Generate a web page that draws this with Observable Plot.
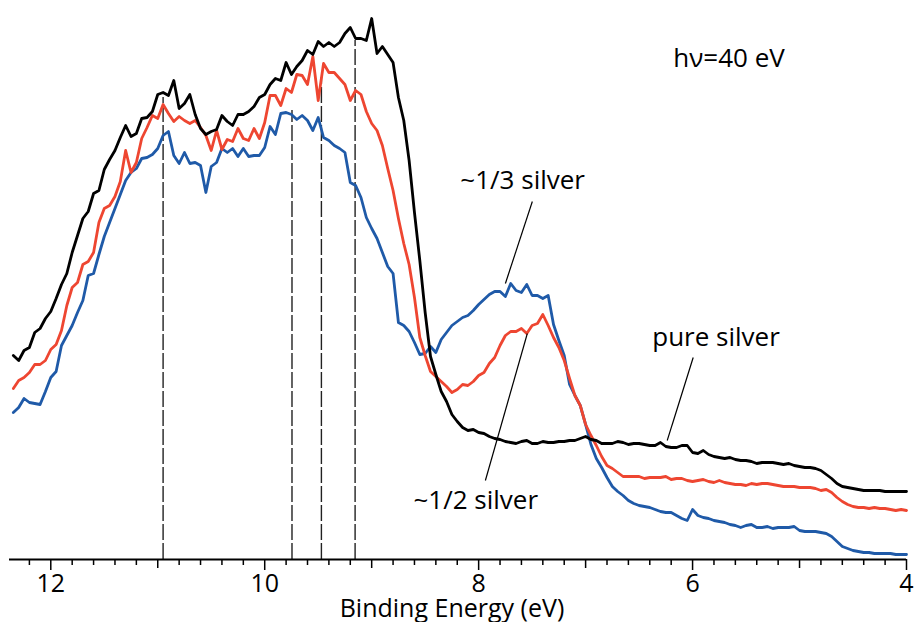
<!DOCTYPE html>
<html><head><meta charset="utf-8">
<script src="https://cdn.jsdelivr.net/npm/d3@7"></script>
<script src="https://cdn.jsdelivr.net/npm/@observablehq/plot@0.6"></script>
<style>html,body{margin:0;padding:0;background:#fff;} #chart{width:917px;height:622px;}</style>
</head><body><div id="chart"></div>
<script>
const energy = [12.35,12.30,12.25,12.20,12.15,12.10,12.05,12.00,11.95,11.90,11.85,11.80,11.75,11.70,11.65,11.60,11.55,11.50,11.45,11.40,11.35,11.30,11.25,11.20,11.15,11.10,11.05,11.00,10.95,10.90,10.85,10.80,10.75,10.70,10.65,10.60,10.55,10.50,10.45,10.40,10.35,10.30,10.25,10.20,10.15,10.10,10.05,10.00,9.95,9.90,9.85,9.80,9.75,9.70,9.65,9.60,9.55,9.50,9.45,9.40,9.35,9.30,9.25,9.20,9.15,9.10,9.05,9.00,8.95,8.90,8.85,8.80,8.75,8.70,8.65,8.60,8.55,8.50,8.45,8.40,8.35,8.30,8.25,8.20,8.15,8.10,8.05,8.00,7.95,7.90,7.85,7.80,7.75,7.70,7.65,7.60,7.55,7.50,7.45,7.40,7.35,7.30,7.25,7.20,7.15,7.10,7.05,7.00,6.95,6.90,6.85,6.80,6.75,6.70,6.65,6.60,6.55,6.50,6.45,6.40,6.35,6.30,6.25,6.20,6.15,6.10,6.05,6.00,5.95,5.90,5.85,5.80,5.75,5.70,5.65,5.60,5.55,5.50,5.45,5.40,5.35,5.30,5.25,5.20,5.15,5.10,5.05,5.00,4.95,4.90,4.85,4.80,4.75,4.70,4.65,4.60,4.55,4.50,4.45,4.40,4.35,4.30,4.25,4.20,4.15,4.10,4.05,4.00];

// intensities (arb. units)
const pureSilver = [204,199,209,212,227,231,241,248,261,275,
286,307,324,341,348,366,369,390,400,409,
422,434,423,426,441,442,448,465,467,464,
479,451,456,465,445,431,425,428,430,444,
438,434,445,445,448,453,462,465,475,481,
479,497,485,493,499,509,505,518,513,517,
513,517,526,532,521,521,519,541,506,513,
505,497,462,439,399,347,299,247,203,185,
168,158,145,138,132,129,130,127,126,123,
121,120,118,117,116,118,119,116,116,118,
117,117,118,118,119,119,121,123,120,119,
116,116,116,118,117,115,116,116,115,114,
114,117,113,112,112,114,114,107,106,109,
105,103,102,101,102,100,99,99,98,96,
97,97,97,96,95,96,94,93,92,92,
91,89,85,81,76,73,72,71,70,69,
69,69,69,68,68,68,68,68];

const halfSilver = [171,179,182,187,195,195,199,210,215,229,
254,272,277,295,298,307,337,351,354,363,
378,409,387,397,421,432,444,441,455,446,
438,443,439,436,439,432,424,409,429,410,
420,418,431,421,419,431,421,437,464,464,
454,471,467,485,484,475,503,459,496,487,
487,481,475,459,469,465,448,436,429,414,
391,369,341,316,295,262,222,204,188,183,
178,173,167,170,175,174,178,184,187,196,
202,214,224,228,228,231,226,234,236,245,
234,222,212,199,181,164,154,135,124,114,
103,94,91,87,83,83,83,83,81,82,
82,82,83,80,81,81,79,78,79,80,
78,77,79,77,76,75,75,74,76,75,
76,76,75,74,73,73,73,72,72,72,
71,69,70,67,62,58,55,53,52,52,
51,52,51,51,50,49,50,49];

const thirdSilver = [147,152,161,157,156,155,168,182,188,214,
224,234,247,259,284,286,305,323,337,351,
365,379,387,391,401,402,405,411,424,428,
404,396,407,396,397,394,367,393,397,411,
407,411,403,411,403,404,404,412,433,425,
446,447,445,440,444,439,429,442,422,419,
414,411,407,377,374,362,342,331,321,307,
293,286,237,234,228,217,205,206,213,207,
220,227,234,238,242,244,249,255,260,265,
268,268,263,276,269,267,275,264,264,261,
264,235,219,204,175,164,154,135,115,101,
92,82,73,68,64,59,56,54,53,52,
50,48,47,47,44,41,39,50,44,42,
41,39,38,37,35,34,32,34,35,32,
32,33,31,32,32,32,33,29,28,28,
28,27,26,23,18,13,11,9,8,7,
7,6,6,6,6,5,5,5];

const seriesNames = ["~1/3 silver", "~1/2 silver", "pure silver"];
const seriesColors = ["#1f5aa8", "#ee4631", "#000000"];

const majorTicks = [12, 10, 8, 6, 4];
const oddTicks = [11, 9, 7, 5];
const minorTicks = [12.2,11.8,11.6,11.4,11.2,10.8,10.6,10.4,10.2,9.8,9.6,9.4,9.2,8.8,8.6,8.4,8.2,7.8,7.6,7.4,7.2,6.8,6.6,6.4,6.2,5.8,5.6,5.4,5.2,4.8,4.6,4.4,4.2];

const peakEnergies = [10.95, 9.745, 9.47, 9.155];
const peakTops = [462, 449, 482, 519];

const labelTexts = ["hν=40 eV", "~1/3 silver", "~1/2 silver", "pure silver"];
const labelE = [6.18, 8.171, 8.61, 6.377];
const labelI = [493, 371, 51, 214];

const leaderE1 = [7.498, 7.937, 5.994];
const leaderI1 = [358, 79, 202];
const leaderE2 = [7.75, 7.545, 6.237];
const leaderI2 = [276, 226, 119];

const xTitle = "Binding Energy (eV)";

// build tables
const allSeries = [thirdSilver, halfSilver, pureSilver];
const rows = [];
allSeries.forEach((vals, s) => vals.forEach((v, i) => rows.push({E: energy[i], I: v, s: seriesNames[s]})));
const labelsTbl = labelTexts.map((t, i) => ({t, E: labelE[i], I: labelI[i]}));
const leaders = leaderE1.map((e, i) => ({x1: e, y1: leaderI1[i], x2: leaderE2[i], y2: leaderI2[i]}));
const peaks = peakEnergies.map((e, i) => ({E: e, top: peakTops[i]}));

const font = "'Open Sans', sans-serif";

const chart = Plot.plot({
  width: 917,
  height: 622,
  marginLeft: 9,
  marginRight: 11,
  marginTop: 10,
  marginBottom: 63,
  style: {fontFamily: font, background: "#fff", color: "#000"},
  x: {domain: [12.386, 4], label: null},
  y: {domain: [0, 549], axis: null},
  color: {domain: seriesNames, range: seriesColors},
  marks: [
    Plot.ruleX(peaks, {x: "E", y1: 0, y2: "top", stroke: "#222", strokeWidth: 1.4, strokeDasharray: "16,3"}),
    Plot.line(rows, {x: "E", y: "I", z: "s", stroke: "s", strokeWidth: 2.8, strokeLinejoin: "round"}),
    Plot.link(leaders, {x1: "x1", y1: "y1", x2: "x2", y2: "y2", stroke: "#000", strokeWidth: 1.2}),
    Plot.text(labelsTbl, {x: "E", y: "I", text: "t", textAnchor: "start", lineAnchor: "bottom", fontSize: 26, fill: "#000"}),
    Plot.ruleY([0], {stroke: "#000", strokeWidth: 2}),
    Plot.axisX({ticks: minorTicks, tickSize: 6, tickFormat: () => "", label: null, strokeWidth: 1.5}),
    Plot.axisX({ticks: oddTicks, tickSize: 9, tickFormat: () => "", label: null, strokeWidth: 1.5}),
    Plot.axisX({ticks: majorTicks, tickSize: 11, tickPadding: 3.5, fontSize: 25, label: null, strokeWidth: 1.5, tickFormat: d => String(d)}),
    Plot.text([xTitle], {frameAnchor: "bottom", dy: 57, dx: -6, lineAnchor: "bottom", fontSize: 25, fill: "#000"})
  ]
});
document.getElementById("chart").appendChild(chart);
</script>
</body></html>
